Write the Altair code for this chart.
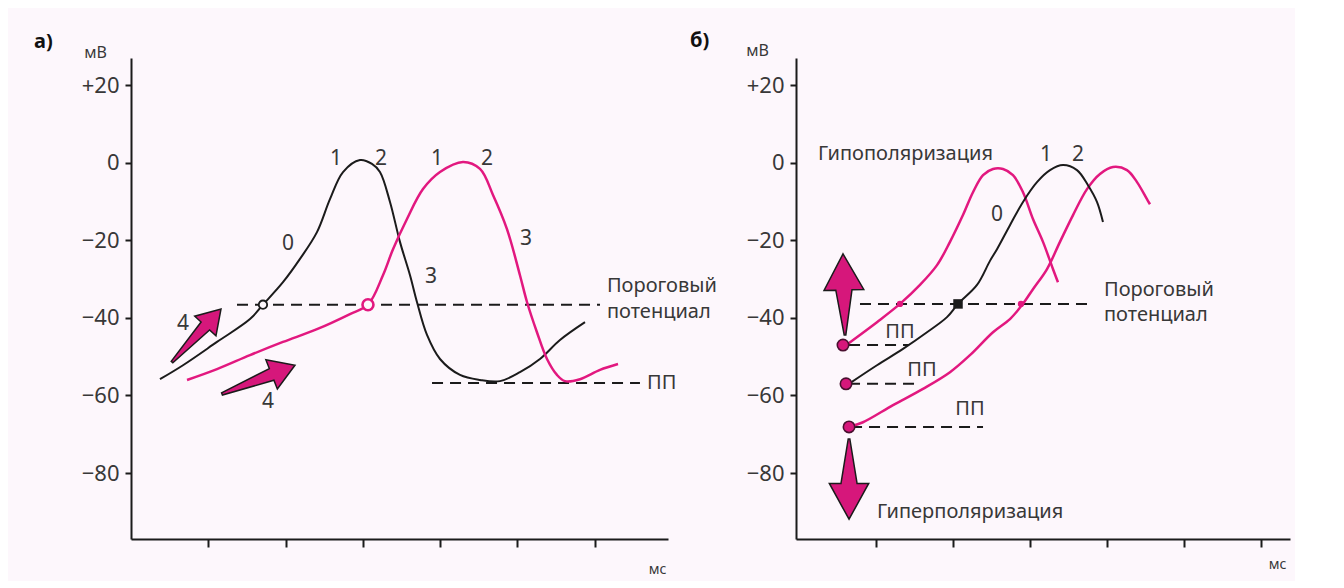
import math
import altair as alt
import pandas as pd

FONT = "Noto Sans"
BG = "#fdf7fc"
PINK = "#e2187f"
ARROW = "#d6177b"
INK = "#1b1b1b"
TXT = "#383838"

# ---------------- geometry of the two panels ----------------
W_A, W_B, H = 537, 494, 481
XD_A = [0, 6.95]
XD_B = [-0.03, 6.37]
YD = [-97, 27]
Y_TICKS = [20, 0, -20, -40, -60, -80]
X_TICKS = [1, 2, 3, 4, 5, 6]

# ---------------- panel а) data ----------------
a_black_t = [0.375, 0.673, 1.113, 1.540, 1.708, 1.967, 2.187, 2.407, 2.575, 2.744, 2.963,
             3.119, 3.222, 3.352, 3.481, 3.611, 3.701, 3.831, 3.999, 4.258, 4.517, 4.776,
             5.034, 5.293, 5.552, 5.876]
a_black_v = [-55.8, -52.2, -46.2, -40.3, -36.6, -30.8, -24.8, -17.9, -9.4, -2.4, 0.7,
             -0.3, -2.4, -10.1, -20.4, -29.0, -35.9, -44.4, -50.6, -54.7, -56.0, -56.3,
             -54.0, -50.6, -45.7, -41.1]
a_pink_t = [0.725, 1.113, 1.540, 1.967, 2.407, 2.834, 3.067, 3.261, 3.391, 3.572, 3.779,
            3.999, 4.297, 4.517, 4.685, 4.866, 5.034, 5.125, 5.254, 5.384, 5.513, 5.617,
            5.811, 6.070, 6.303]
a_pink_v = [-56.0, -53.2, -49.6, -46.2, -42.9, -39.0, -36.6, -29.0, -22.3, -14.5, -6.8,
            -2.4, 0.2, -1.6, -8.3, -17.1, -29.0, -35.9, -43.7, -50.6, -54.7, -56.3,
            -55.8, -53.4, -51.9]
a_threshold = -36.6
a_threshold_span = [1.372, 6.070]
a_rest = -56.8
a_rest_span = [3.896, 6.587]
a_open_black = [(1.708, -36.6)]
a_open_pink = [(3.067, -36.6)]
a_arrow_tail = [(0.531, -51.4), (1.178, -59.6)]
a_arrow_tip = [(1.165, -37.7), (2.122, -52.2)]
a_num_labels = ["1", "2", "1", "2", "0", "3", "3", "4", "4"]
a_num_t = [2.653, 3.236, 3.960, 4.607, 2.032, 3.883, 5.112, 0.673, 1.773]
a_num_v = [0.9, 0.9, 0.9, 0.9, -21.0, -29.5, -19.7, -41.6, -61.7]
a_side_labels = ["Пороговый", "потенциал", "ПП"]
a_side_t = [6.160, 6.160, 6.678]
a_side_v = [-31.8, -38.5, -56.8]
a_panel_label = ("а)", -1.255, 31.0)

# ---------------- panel б) data ----------------
b_pink1_t = [0.640, 1.019, 1.317, 1.576, 1.797, 1.965, 2.133, 2.263, 2.393, 2.522, 2.652,
             2.781, 2.911, 3.040, 3.170, 3.299, 3.364]
b_pink1_v = [-46.7, -41.1, -36.4, -31.5, -26.4, -20.4, -13.5, -7.6, -3.2, -1.6, -1.6,
             -3.2, -7.6, -14.5, -20.4, -27.4, -30.8]
b_black_t = [0.670, 1.019, 1.356, 1.667, 1.926, 2.069, 2.315, 2.483, 2.574, 2.742, 2.911,
             3.092, 3.261, 3.429, 3.610, 3.753, 3.869, 3.947]
b_black_v = [-56.8, -52.2, -48.0, -43.7, -39.8, -36.4, -31.5, -25.3, -22.3, -16.1, -10.1,
             -5.0, -1.9, -0.6, -1.9, -5.8, -10.1, -15.3]
b_pink3_t = [0.683, 0.838, 1.227, 1.615, 1.965, 2.224, 2.522, 2.742, 2.898, 3.040, 3.222,
             3.390, 3.559, 3.740, 3.908, 4.077, 4.258, 4.388, 4.517, 4.556]
b_pink3_v = [-67.9, -66.9, -62.5, -58.3, -54.0, -49.6, -43.7, -40.3, -36.7, -32.6, -27.4,
             -20.4, -13.5, -6.8, -2.9, -1.1, -1.9, -5.0, -9.4, -10.7]
b_threshold = -36.4
b_threshold_span = [0.799, 3.818]
b_rest_v = [-47.0, -57.0, -68.1]
b_rest_start = [0.657, 0.657, 0.683]
b_rest_end = [1.434, 1.512, 2.393]
b_rest_dots_t = [0.579, 0.618, 0.657]
b_square = [(2.069, -36.4)]
b_pink_dots = [(1.317, -36.4), (2.885, -36.4)]
b_arrow_tail = [(0.605, -44.4), (0.657, -71.2)]
b_arrow_tip = [(0.579, -23.5), (0.657, -91.9)]
b_num_labels = ["1", "2", "0"]
b_num_t = [3.209, 3.623, 2.574]
b_num_v = [2.0, 2.0, -13.5]
b_pp_labels = ["ПП", "ПП", "ПП"]
b_pp_t = [1.317, 1.602, 2.224]
b_pp_v = [-43.7, -53.4, -63.5]
b_side_labels = ["Гипополяризация", "Пороговый", "потенциал", "Гиперполяризация"]
b_side_t = [0.255, 3.960, 3.960, 1.019]
b_side_v = [2.2, -32.8, -39.3, -90.0]
b_panel_label = ("б)", -1.403, 31.5)

ARROW_A = "M0,-1L0.40,-0.36L0.16,-0.36L0.03,1L-0.03,1L-0.16,-0.36L-0.40,-0.36Z"
ARROW_B = "M0,-1L0.49,-0.11L0.2,-0.11L0.02,1L-0.02,1L-0.2,-0.11L-0.49,-0.11Z"


def curve_df(series):
    rows = []
    for name, ts, vs in series:
        for i, (t, v) in enumerate(zip(ts, vs)):
            rows.append({"s": name, "i": i, "t": t, "v": v})
    return pd.DataFrame(rows)


def pts_df(pts):
    return pd.DataFrame({"t": [p[0] for p in pts], "v": [p[1] for p in pts]})


def arrows_df(tails, tips, xpx, ypx):
    rows = []
    for (t0, v0), (t1, v1) in zip(tails, tips):
        dx = (t1 - t0) * xpx
        dy = (v1 - v0) * ypx
        rows.append({
            "t": (t0 + t1) / 2,
            "v": (v0 + v1) / 2,
            "angle": math.degrees(math.atan2(dx, dy)) % 360,
            "size": dx * dx + dy * dy,
        })
    return pd.DataFrame(rows)


def encodings(xdom, width, ttx, tty, ytx, yty):
    x = alt.X("t:Q", scale=alt.Scale(domain=xdom, nice=False, zero=False),
              axis=alt.Axis(values=X_TICKS, labels=False, grid=False, tickSize=8, tickWidth=2,
                            tickColor=INK, domainColor=INK, domainWidth=2,
                            title="мс", titleX=ttx, titleY=tty, titleAlign="right",
                            titleBaseline="middle", titleFont=FONT, titleFontSize=14,
                            titleFontWeight="normal", titleColor=TXT))
    y = alt.Y("v:Q", scale=alt.Scale(domain=YD, nice=False, zero=False),
              axis=alt.Axis(values=Y_TICKS, grid=False, tickSize=6, tickWidth=2,
                            tickColor=INK, domainColor=INK, domainWidth=2,
                            labelExpr="datum.value > 0 ? '+' + datum.label : datum.label",
                            labelFont=FONT, labelFontSize=22, labelColor=TXT, labelPadding=6,
                            title="мВ", titleAngle=0, titleX=ytx, titleY=yty, titleAlign="center",
                            titleBaseline="middle", titleFont=FONT, titleFontSize=16,
                            titleFontWeight="normal", titleColor=TXT))
    return x, y


def lines(df, color, x, y, sw):
    return alt.Chart(df).mark_line(color=color, strokeWidth=sw, interpolate="catmull-rom").encode(
        x=x, y=y, detail="s:N", order="i:Q")


def texts(df, x, y, color=TXT, **kw):
    return alt.Chart(df).mark_text(font=FONT, color=color, **kw).encode(x=x, y=y, text="label:N")


# ---------------- panel а) ----------------
xa, ya = encodings(XD_A, W_A, W_A - 2, 30, -36, -6)
xpx_a = W_A / (XD_A[1] - XD_A[0])
ypx = H / (YD[1] - YD[0])

a_dash = pd.DataFrame({"t": [a_threshold_span[0], a_rest_span[0]],
                       "t2": [a_threshold_span[1], a_rest_span[1]],
                       "v": [a_threshold, a_rest]})
panel_a = alt.layer(
    alt.Chart(a_dash).mark_rule(color=INK, strokeWidth=2, strokeDash=[11, 7]).encode(
        x=xa, x2="t2:Q", y=ya),
    lines(curve_df([("b", a_black_t, a_black_v)]), INK, xa, ya, 2),
    lines(curve_df([("p", a_pink_t, a_pink_v)]), PINK, xa, ya, 2.5),
    alt.Chart(pts_df(a_open_black)).mark_point(shape="circle", size=70, filled=True, fill=BG,
                                               stroke=INK, strokeWidth=1.8, opacity=1).encode(x=xa, y=ya),
    alt.Chart(pts_df(a_open_pink)).mark_point(shape="circle", size=120, filled=True, fill=BG,
                                              stroke=PINK, strokeWidth=2.6, opacity=1).encode(x=xa, y=ya),
    alt.Chart(arrows_df(a_arrow_tail, a_arrow_tip, xpx_a, ypx)).mark_point(
        shape=ARROW_A, filled=True, fill=ARROW, stroke=INK, strokeWidth=1.5, opacity=1).encode(
        x=xa, y=ya, angle=alt.Angle("angle:Q", scale=None), size=alt.Size("size:Q", scale=None)),
    texts(pd.DataFrame({"label": a_num_labels, "t": a_num_t, "v": a_num_v}), xa, ya,
          fontSize=21, align="center", baseline="middle"),
    texts(pd.DataFrame({"label": a_side_labels, "t": a_side_t, "v": a_side_v}), xa, ya,
          fontSize=20, align="left", baseline="middle"),
    texts(pd.DataFrame({"label": [a_panel_label[0]], "t": [a_panel_label[1]], "v": [a_panel_label[2]]}),
          xa, ya, color="#111111", fontSize=20, fontWeight="bold", align="left", baseline="middle"),
).properties(width=W_A, height=H)

# ---------------- panel б) ----------------
xb, yb = encodings(XD_B, W_B, W_B - 4, 25, -39, -8)
xpx_b = W_B / (XD_B[1] - XD_B[0])

b_dash = pd.DataFrame({"t": [b_threshold_span[0]] + b_rest_start,
                       "t2": [b_threshold_span[1]] + b_rest_end,
                       "v": [b_threshold] + b_rest_v})
panel_b = alt.layer(
    alt.Chart(b_dash).mark_rule(color=INK, strokeWidth=2, strokeDash=[11, 7]).encode(
        x=xb, x2="t2:Q", y=yb),
    lines(curve_df([("p1", b_pink1_t, b_pink1_v), ("p3", b_pink3_t, b_pink3_v)]), PINK, xb, yb, 2.5),
    lines(curve_df([("b", b_black_t, b_black_v)]), INK, xb, yb, 2),
    alt.Chart(pts_df(list(zip(b_rest_dots_t, b_rest_v)))).mark_point(
        shape="circle", size=130, filled=True, fill=ARROW, stroke="#4a1030", strokeWidth=1.6,
        opacity=1).encode(x=xb, y=yb),
    alt.Chart(pts_df(b_square)).mark_point(shape="square", size=90, filled=True, fill=INK,
                                           opacity=1).encode(x=xb, y=yb),
    alt.Chart(pts_df(b_pink_dots)).mark_point(shape="circle", size=40, filled=True, fill=PINK,
                                              opacity=1).encode(x=xb, y=yb),
    alt.Chart(arrows_df(b_arrow_tail, b_arrow_tip, xpx_b, ypx)).mark_point(
        shape=ARROW_B, filled=True, fill=ARROW, stroke=INK, strokeWidth=1.5, opacity=1).encode(
        x=xb, y=yb, angle=alt.Angle("angle:Q", scale=None), size=alt.Size("size:Q", scale=None)),
    texts(pd.DataFrame({"label": b_num_labels, "t": b_num_t, "v": b_num_v}), xb, yb,
          fontSize=21, align="center", baseline="middle"),
    texts(pd.DataFrame({"label": b_pp_labels, "t": b_pp_t, "v": b_pp_v}), xb, yb,
          fontSize=20, align="center", baseline="middle"),
    texts(pd.DataFrame({"label": b_side_labels, "t": b_side_t, "v": b_side_v}), xb, yb,
          fontSize=20, align="left", baseline="middle"),
    texts(pd.DataFrame({"label": [b_panel_label[0]], "t": [b_panel_label[1]], "v": [b_panel_label[2]]}),
          xb, yb, color="#111111", fontSize=20, fontWeight="bold", align="left", baseline="middle"),
).properties(width=W_B, height=H)

chart = alt.hconcat(panel_a, panel_b, spacing=128, bounds="flush").properties(
    padding={"left": 26, "top": 22, "right": 5, "bottom": 5},
    background=BG,
).configure_view(strokeWidth=0)

chart.save("out.html", embed_options={"renderer": "svg", "actions": False})
